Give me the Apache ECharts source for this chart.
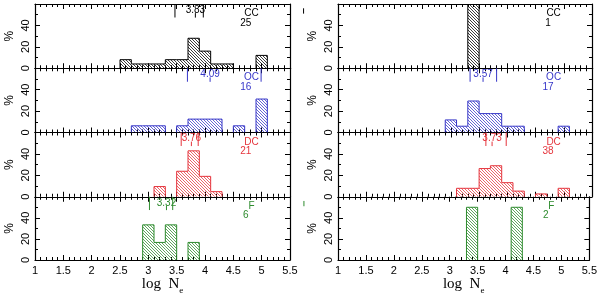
<!DOCTYPE html>
<html><head><meta charset="utf-8">
<script src="https://cdn.jsdelivr.net/npm/echarts@6/dist/echarts.min.js"></script>
<style>html,body{margin:0;padding:0;background:#fff}#c{width:600px;height:296px}</style>
</head><body><div id="c"></div>
<script>
// ---- data ----
const binEdges = [2.5,2.7,2.9,3.1,3.3,3.5,3.7,3.9,4.1,4.3,4.5,4.7,4.9,5.1];
const classNames = ['CC','OC','DC','F'];
const leftCounts = [25,16,21,6];
const rightCounts = [1,17,38,2];
const xTicks = [1,1.5,2,2.5,3,3.5,4,4.5,5,5.5];
const yTicks = [0,20,40,60];

const leftCC = [8,4,4,4,8,8,28,16,4,4,0,0,12];
const leftOC = [0,6.25,6.25,6.25,0,6.25,12.5,12.5,12.5,0,6.25,0,31.25];
const leftDC = [0,0,0,9.52,0,23.81,42.86,19.05,4.76,0,0,0,0];
const leftF  = [0,0,33.33,16.67,33.33,0,16.67,0,0,0,0,0,0];
const rightCC = [0,0,0,0,100,0,0,0,0,0,0,0,0];
const rightOC = [0,0,11.76,5.88,29.41,17.65,17.65,5.88,5.88,0,0,0,5.88];
const rightDC = [0,0,0,7.89,7.89,26.32,28.95,13.16,5.26,0,2.63,0,7.89];
const rightF  = [0,0,0,0,50,0,0,0,50,0,0,0,0];

// [Q1, median, Q3]; null Q1 => single short mark only
const leftStats  = [[3.47,3.83,3.97],[3.69,4.09,4.99],[3.58,3.76,3.88],[3.02,3.32,3.43]];
const rightStats = [[null,0.39,null],[3.34,3.57,3.81],[3.62,3.73,3.98],[null,0.39,null]];
const medianLabels = [['3.83','4.09','3.76','3.32'],['','3.57','3.73','']];

const colors = ['#000000','#3636c8','#e5343c','#2e8b2e'];

// ---- layout ----
const colLeft = [35, 338], colWidth = [255, 254];
const rowTop = 4, rowH = 64.25;

function hatch(color){
  const s = 3;
  const c = document.createElement('canvas'); c.width = s; c.height = s;
  const ctx = c.getContext('2d'); ctx.strokeStyle = color; ctx.lineWidth = 0.9; ctx.globalAlpha = 0.85;
  ctx.beginPath();
  ctx.moveTo(-1,-1); ctx.lineTo(s+1,s+1);
  ctx.moveTo(-1,s-1); ctx.lineTo(1,s+1);
  ctx.moveTo(s-1,-1); ctx.lineTo(s+1,1);
  ctx.stroke();
  return c;
}

const chart = echarts.init(document.getElementById('c'), null, {renderer:'canvas'});
const grids = [], xAxes = [], yAxes = [], series = [];
const allVals = [[leftCC,leftOC,leftDC,leftF],[rightCC,rightOC,rightDC,rightF]];
const allStats = [leftStats, rightStats];
const allCounts = [leftCounts, rightCounts];
const font = 'Liberation Sans';

for (let col = 0; col < 2; col++) {
  for (let row = 0; row < 4; row++) {
    const g = grids.length;
    grids.push({left: colLeft[col], width: colWidth[col], top: rowTop + row*rowH, height: rowH});
    const isBottom = row === 3;
    const xBase = {
      type:'value', gridIndex:g, min:xTicks[0], max:xTicks[xTicks.length-1], interval:xTicks[1]-xTicks[0],
      axisLine:{show:true, onZero:false, lineStyle:{color:'#000', width:1.2}},
      axisTick:{show:true, inside:true, length:5, lineStyle:{color:'#000', width:1}},
      minorTick:{show:true, splitNumber:5, length:3, lineStyle:{color:'#000', width:1}},
      splitLine:{show:false}
    };
    xAxes.push(Object.assign({}, xBase, {position:'bottom',
      axisLabel:{show:isBottom, color:'#000', fontSize:11, fontFamily:font, margin:5},
      name: isBottom ? '{n|log  N}{s|e}' : '', nameLocation:'middle', nameGap:14,
      nameTextStyle:{rich:{n:{fontFamily:'Liberation Serif', fontSize:15, color:'#000'},
                           s:{fontFamily:'Liberation Serif', fontSize:9, color:'#000', padding:[12,0,0,0]}}}
    }));
    xAxes.push(Object.assign({}, xBase, {position:'top', axisLabel:{show:false}}));
    const yBase = {
      type:'value', gridIndex:g, min:yTicks[0], max:yTicks[yTicks.length-1], interval:yTicks[1]-yTicks[0],
      axisLine:{show:true, onZero:false, lineStyle:{color:'#000', width:1.2}},
      axisTick:{show:true, inside:true, length:5, lineStyle:{color:'#000', width:1}},
      minorTick:{show:true, splitNumber:2, length:3, lineStyle:{color:'#000', width:1}},
      splitLine:{show:false}
    };
    yAxes.push(Object.assign({}, yBase, {position:'left',
      axisLabel:{show:true, rotate:90, showMaxLabel:false, color:'#000', fontSize:11, fontFamily:font, margin:4},
      name:'%', nameLocation:'middle', nameRotate:90, nameGap:19,
      nameTextStyle:{color:'#000', fontSize:12, fontFamily:font}
    }));
    yAxes.push(Object.assign({}, yBase, {position:'right', axisLabel:{show:false}}));

    const vals = allVals[col][row];
    const color = colors[row];
    const pat = hatch(color);
    const xi = g*2, yi = g*2;
    // histogram bars
    series.push({
      type:'custom', xAxisIndex:xi, yAxisIndex:yi, clip:true, silent:true,
      data: vals.map((v,i) => [binEdges[i], v]),
      encode:{x:0, y:1},
      renderItem: function(params, api){
        const i = params.dataIndex;
        const x0 = binEdges[i], x1 = binEdges[i+1];
        const h = vals[i], hp = i > 0 ? vals[i-1] : 0;
        const ch = [];
        const ls = {stroke:color, lineWidth:1};
        const p0 = api.coord([x0, 0]), p1 = api.coord([x1, h]);
        if (h > 0) {
          ch.push({type:'rect', shape:{x:p0[0], y:p1[1], width:p1[0]-p0[0], height:p0[1]-p1[1]},
                   style:{fill:{image:pat, repeat:'repeat'}}});
          ch.push({type:'line', shape:{x1:p0[0], y1:p1[1], x2:p1[0], y2:p1[1]}, style:ls});
        }
        const lo = Math.min(h,hp), hi = Math.max(h,hp);
        if (hi > 0) {
          const a = api.coord([x0, lo]), b = api.coord([x0, hi]);
          ch.push({type:'line', shape:{x1:a[0], y1:a[1], x2:b[0], y2:b[1]}, style:ls});
        }
        if (i === vals.length-1 && h > 0) {
          const a = api.coord([x1, 0]), b = api.coord([x1, h]);
          ch.push({type:'line', shape:{x1:a[0], y1:a[1], x2:b[0], y2:b[1]}, style:ls});
        }
        return {type:'group', children:ch};
      }
    });
    // quartile / median markers
    const st = allStats[col][row];
    const mlab = medianLabels[col][row];
    series.push({
      type:'custom', xAxisIndex:xi, yAxisIndex:yi, clip:false, silent:true,
      data:[[st[1], 50]], encode:{x:0, y:1},
      renderItem: function(params, api){
        const ch = [];
        const ls = {stroke:color, lineWidth:1};
        const vline = (x, ya, yb) => {
          const a = api.coord([x, ya]), b = api.coord([x, yb]);
          ch.push({type:'line', shape:{x1:a[0], y1:a[1], x2:b[0], y2:b[1]}, style:ls});
        };
        if (st[0] === null) {
          vline(st[1], 56, 51);
        } else {
          vline(st[0], 60, 47.4);
          vline(st[2], 60, 47.4);
          vline(st[1], 51.5, 47.3);
          const t = api.coord([st[1], 54.2]);
          ch.push({type:'text', x:t[0], y:t[1], style:{text:mlab, fill:color, fontSize:10, fontFamily:font,
                   align:'center', verticalAlign:'middle'}});
        }
        return {type:'group', children:ch};
      }
    });
    // class name and count
    const cnt = allCounts[col][row];
    series.push({
      type:'custom', xAxisIndex:xi, yAxisIndex:yi, clip:false, silent:true,
      data:[[4.82, 51.3]], encode:{x:0, y:1},
      renderItem: function(params, api){
        const a = api.coord([4.82, 51.3]), b = api.coord([4.72, 42.3]);
        return {type:'group', children:[
          {type:'text', x:a[0], y:a[1], style:{text:classNames[row], fill:color, fontSize:10, fontFamily:font, align:'center', verticalAlign:'middle'}},
          {type:'text', x:b[0], y:b[1], style:{text:String(cnt), fill:color, fontSize:10, fontFamily:font, align:'center', verticalAlign:'middle'}}
        ]};
      }
    });
  }
}

chart.setOption({
  animation:false,
  backgroundColor:'#fff',
  grid: grids,
  xAxis: xAxes,
  yAxis: yAxes,
  series: series
});
</script>
</body></html>
